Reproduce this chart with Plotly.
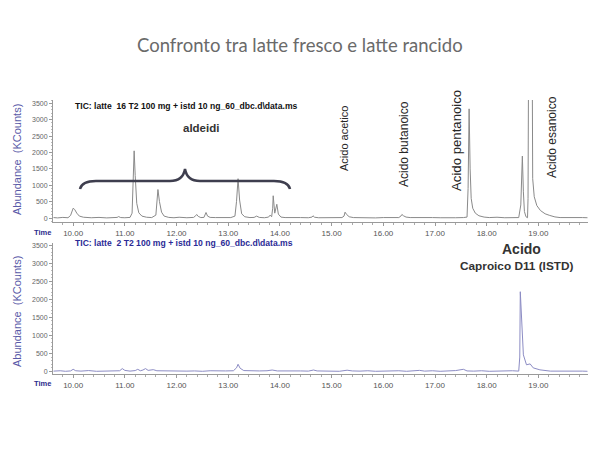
import plotly.graph_objects as go

# ---------------- data ----------------
top_time = [9.62, 9.70, 9.80, 9.90,
            9.95, 9.98, 10.00, 10.03, 10.07, 10.12, 10.20,
            10.35, 10.50, 10.65, 10.80,
            10.85, 10.88, 10.92, 11.00, 11.10,
            11.14, 11.16, 11.18, 11.20, 11.23, 11.27, 11.33, 11.42, 11.52,
            11.60, 11.62, 11.64, 11.67, 11.71, 11.76, 11.85,
            11.95, 12.05, 12.20,
            12.33, 12.37, 12.39, 12.42, 12.47,
            12.53, 12.55, 12.57, 12.60, 12.65,
            12.75, 12.90, 13.05,
            13.13, 13.16, 13.19, 13.22, 13.26, 13.32, 13.42,
            13.50, 13.55, 13.60, 13.70,
            13.78, 13.81, 13.84, 13.86, 13.87, 13.90, 13.92, 13.94, 13.97, 14.02,
            14.10, 14.25, 14.40, 14.55,
            14.62, 14.64, 14.67,
            14.75, 14.90, 15.05, 15.20,
            15.24, 15.26, 15.29, 15.34, 15.42,
            15.55, 15.70, 15.85, 16.00, 16.15, 16.30,
            16.34, 16.36, 16.39, 16.44, 16.52,
            16.65, 16.80, 16.95, 17.10, 17.25, 17.40, 17.55,
            17.62, 17.64, 17.66, 17.68, 17.70, 17.73, 17.78, 17.85, 17.95,
            18.05, 18.20, 18.35, 18.50, 18.62,
            18.66, 18.69, 18.71, 18.73, 18.76, 18.79,
            18.80, 18.82, 18.87, 18.89, 18.92, 18.97, 19.04, 19.13, 19.22, 19.32, 19.42,
            19.55, 19.70, 19.85, 19.95]
top_abund = [15, 5, 20, 10,
             80, 220, 300, 260, 150, 60, 25,
             10, 20, 5, 15,
             20, 45, 15, 10, 20,
             150, 900, 2050, 1300, 450, 160, 60, 25, 15,
             90, 450, 870, 500, 180, 60, 20,
             10, 25, 10,
             20, 70, 110, 50, 15,
             20, 100, 170, 60, 20,
             15, 5, 15,
             60, 500, 1200, 550, 130, 40, 15,
             20, 60, 20, 10,
             30, 90, 40, 300, 680, 150, 300, 420, 120, 30,
             15, 5, 15, 10,
             30, 70, 25,
             10, 15, 5, 15,
             60, 180, 110, 40, 15,
             10, 20, 5, 15, 10, 15,
             60, 110, 70, 30, 15,
             20, 5, 15, 10, 20, 10, 15,
             30, 900, 3330, 1500, 600, 300, 150, 70, 30,
             15, 25, 10, 20, 15,
             400, 1890, 800, 200, 40, 10,
             600, 9000, 9000, 1200, 650, 380, 230, 130, 80, 35, 15,
             20, 10, 15, 10]

bottom_time = [9.62, 9.75, 9.85, 9.95, 10.00, 10.05, 10.15, 10.30, 10.45, 10.60,
               10.75, 10.90, 10.95, 11.00, 11.10, 11.20, 11.25, 11.30, 11.35, 11.40,
               11.45, 11.55, 11.62, 11.75, 11.90, 12.05, 12.20, 12.35, 12.50, 12.65,
               12.80, 12.95, 13.10, 13.16, 13.19, 13.23, 13.30, 13.45, 13.60, 13.75,
               13.85, 13.95, 14.10, 14.25, 14.40, 14.55, 14.65, 14.72, 14.85, 15.00,
               15.15, 15.30, 15.40, 15.55, 15.70, 15.85, 16.00, 16.15, 16.30, 16.45,
               16.60, 16.70, 16.80, 16.95, 17.10, 17.25, 17.40, 17.55, 17.62, 17.75,
               17.90, 18.05, 18.20, 18.35, 18.50, 18.62,
               18.64, 18.65, 18.67, 18.68, 18.71, 18.77, 18.84, 18.90, 19.03, 19.23,
               19.40, 19.55, 19.70, 19.85, 19.95]
bottom_abund = [10, 20, 5, 15, 60, 20, 10, 25, 5, 15,
                10, 20, 80, 30, 10, 25, 60, 20, 40, 80,
                30, 50, 20, 15, 5, 20, 10, 15, 5, 20,
                10, 15, 20, 100, 200, 90, 25, 10, 15, 20,
                40, 15, 20, 5, 15, 10, 40, 15, 10, 20,
                5, 35, 15, 10, 20, 5, 15, 10, 20, 5,
                15, 30, 10, 20, 5, 15, 25, 60, 15, 10,
                20, 5, 15, 10, 20, 10,
                400, 2210, 1600, 970, 460, 185, 210, 100, 45, 10,
                15, 5, 15, 10, 5]

y_ticks = [0, 500, 1000, 1500, 2000, 2500, 3000, 3500]
x_ticks = [10, 11, 12, 13, 14, 15, 16, 17, 18, 19]
x_tick_labels = ["10.00", "11.00", "12.00", "13.00", "14.00",
                 "15.00", "16.00", "17.00", "18.00", "19.00"]

title_text = "Confronto tra latte fresco e latte rancido"
top_file = "TIC: latte  16 T2 100 mg + istd 10 ng_60_dbc.d\\data.ms"
bottom_file = "TIC: latte  2 T2 100 mg + istd 10 ng_60_dbc.d\\data.ms"

# ---------------- layout helpers ----------------
# the page body has an 8 px margin, so the figure is drawn 8 px in from the
# window edge; window coordinates are converted to figure coordinates here
OFF = 8
W, H = 600 - OFF, 450 - OFF


def px(x, y):
    return (x - OFF) / W, 1 - (y - OFF) / H


def fx(x):
    return (x - OFF) / W


def fy(y):
    return 1 - (y - OFF) / H


AX = "Liberation Sans, Arial, sans-serif"

fig = go.Figure()
fig.add_trace(go.Scatter(x=top_time, y=top_abund, mode="lines",
                         line=dict(color="#8a8a8a", width=1),
                         xaxis="x", yaxis="y", showlegend=False, hoverinfo="skip"))
fig.add_trace(go.Scatter(x=bottom_time, y=bottom_abund, mode="lines",
                         line=dict(color="#8c8cc4", width=1),
                         xaxis="x2", yaxis="y2", showlegend=False, hoverinfo="skip"))

x_dom = [fx(53), fx(588)]
x_rng = [9.61, 19.96]

xcommon = dict(range=x_rng, domain=x_dom, tickmode="array", tickvals=x_ticks,
               ticktext=x_tick_labels, showgrid=False, zeroline=False,
               showline=True, linecolor="#9a9a9a", linewidth=1, automargin=False,
               ticks="outside", ticklen=3, tickcolor="#9a9a9a",
               tickfont=dict(family=AX, size=8, color="#555555"),
               minor=dict(dtick=0.2, tick0=10, ticks="outside", ticklen=2,
                          tickcolor="#aaaaaa", showgrid=False))
ycommon = dict(tickmode="array", tickvals=y_ticks, showgrid=False, zeroline=False,
               showline=True, linecolor="#9a9a9a", linewidth=1, automargin=False,
               ticks="outside", ticklen=3, tickcolor="#9a9a9a",
               tickfont=dict(family=AX, size=7, color="#666666"),
               minor=dict(dtick=100, tick0=0, ticks="outside", ticklen=1.5,
                          tickcolor="#bbbbbb", showgrid=False))

fig.update_layout(
    width=W, height=H,
    margin=dict(l=0, r=0, t=0, b=0, autoexpand=False),
    paper_bgcolor="white", plot_bgcolor="white",
    xaxis=dict(anchor="y", **xcommon),
    yaxis=dict(anchor="x", range=[-120, 3600],
               domain=[fy(222), fy(100)], **ycommon),
    xaxis2=dict(anchor="y2", **xcommon),
    yaxis2=dict(anchor="x2", range=[-70, 3560],
                domain=[fy(374), fy(243)], **ycommon),
)

ann = []


def text(x, y, s, size, color="#333333", bold=False, angle=0, family=AX,
         xanchor="center"):
    ax, ay = px(x, y)
    ann.append(dict(x=ax, y=ay, xref="paper", yref="paper", text=(f"<b>{s}</b>" if bold else s),
                    showarrow=False, textangle=angle, xanchor=xanchor, yanchor="middle",
                    font=dict(family=family, size=size, color=color)))


text(300, 45, title_text, 18.5, color="#6a6a6a",
     family="Lato, Open Sans, sans-serif")
text(73, 106, top_file, 8.6, color="#111111", bold=True, xanchor="left")
text(73, 243, bottom_file, 8.6, color="#2b2b96", bold=True, xanchor="left")
text(17, 160, "Abundance  (KCounts)", 11, color="#5a5aa8", angle=-90)
text(17, 312, "Abundance  (KCounts)", 11, color="#5a5aa8", angle=-90)
text(42, 232, "Time", 7.5, color="#2b2b8c", bold=True)
text(42, 383, "Time", 7.5, color="#2b2b8c", bold=True)
text(201, 128, "aldeidi", 11.5, color="#333333", bold=True)
text(344, 139, "Acido acetico", 11, color="#262626", angle=-90)
text(404, 144, "Acido butanoico", 12, color="#262626", angle=-90)
text(456, 141, "Acido pentanoico", 13.2, color="#262626", angle=-90)
text(552, 137, "Acido esanoico", 12, color="#262626", angle=-90)
text(521, 249, "Acido", 14, color="#333333", bold=True)
text(516, 266, "Caproico D11 (ISTD)", 11.8, color="#333333", bold=True)
fig.update_layout(annotations=ann)

# curly brace above the aldehyde peaks (decoration, in paper coordinates)
pts = [("M", 80, 189), ("Q", 82, 181, 96, 181), ("L", 170, 181),
       ("Q", 183, 181, 185, 169), ("Q", 187, 181, 200, 181), ("L", 274, 181),
       ("Q", 288, 181, 290, 189)]
path = ""
for p in pts:
    cmd = p[0]
    coords = p[1:]
    segs = []
    for i in range(0, len(coords), 2):
        a, b = px(coords[i], coords[i + 1])
        segs.append(f"{a:.4f},{b:.4f}")
    path += cmd + " " + " ".join(segs) + " "
fig.add_shape(type="path", path=path.strip(), xref="paper", yref="paper",
              line=dict(color="#3e3e4e", width=2.5))

fig.write_html("out.html")
